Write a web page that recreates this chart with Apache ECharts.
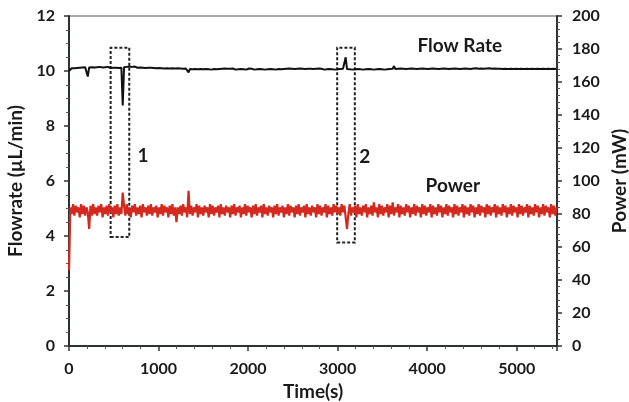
<!DOCTYPE html>
<html>
<head>
<meta charset="utf-8">
<script src="https://cdn.jsdelivr.net/npm/echarts@6/dist/echarts.min.js"></script>
<style>
  html, body { margin: 0; padding: 0; background: #fff; }
  #chart { width: 629px; height: 402px; }
</style>
</head>
<body>
<div id="chart"></div>
<script>
// sampling step of the recording (s)
var timeStep = 15;

// flow rate, uL/min (left axis), one value per 15 s
var flowRate = [
  10.0, 10.06, 10.1, 10.12, 10.1, 10.13, 10.11, 10.14, 10.12, 10.1, 10.13, 10.11, 10.14, 10.12, 9.8, 10.13, 10.11, 10.14, 10.12, 10.13,
  10.11, 10.14, 10.12, 10.15, 10.12, 10.13, 10.11, 10.14, 10.12, 10.15, 10.13, 10.11, 10.14, 10.12, 10.15, 10.12, 10.14, 10.11, 10.13, 10.12,
  8.75, 10.14, 10.12, 10.15, 10.13, 10.16, 10.13, 10.15, 10.12, 10.16, 10.14, 10.12, 10.15, 10.13, 10.14, 10.12, 10.13, 10.11, 10.13, 10.12,
  10.1, 10.12, 10.09, 10.11, 10.08, 10.1, 10.09, 10.11, 10.08, 10.1, 10.07, 10.09, 10.08, 10.1, 10.07, 10.09, 10.08, 10.1, 10.07, 10.09,
  10.08, 10.1, 10.07, 10.09, 10.06, 10.08, 10.07, 10.09, 10.06, 9.95, 10.07, 10.09, 10.06, 10.08, 10.07, 10.09, 10.06, 10.08, 10.07, 10.09,
  10.06, 10.08, 10.07, 10.09, 10.06, 10.08, 10.05, 10.08, 10.07, 10.09, 10.06, 10.08, 10.07, 10.05, 10.08, 10.06, 10.09, 10.07, 10.08, 10.06,
  10.08, 10.06, 10.09, 10.07, 10.05, 10.08, 10.06, 10.09, 10.07, 10.08, 10.06, 10.08, 10.05, 10.07, 10.09, 10.06, 10.08, 10.07, 10.05, 10.08,
  10.06, 10.09, 10.07, 10.08, 10.06, 10.07, 10.05, 10.08, 10.06, 10.09, 10.07, 10.08, 10.06, 10.07, 10.05, 10.08, 10.07, 10.09, 10.06, 10.08,
  10.07, 10.05, 10.08, 10.06, 10.09, 10.07, 10.08, 10.06, 10.07, 10.05, 10.08, 10.06, 10.09, 10.07, 10.08, 10.06, 10.07, 10.05, 10.08, 10.06,
  10.08, 10.06, 10.07, 10.05, 10.08, 10.07, 10.09, 10.06, 10.08, 10.07, 10.05, 10.08, 10.06, 10.09, 10.07, 10.08, 10.06, 10.07, 10.05, 10.08,
  10.06, 10.08, 10.07, 10.05, 10.08, 10.06, 10.5, 10.07, 10.08, 10.06, 10.07, 10.05, 10.08, 10.06, 10.09, 10.07, 10.08, 10.06, 10.07, 10.05,
  10.08, 10.06, 10.09, 10.07, 10.08, 10.06, 10.07, 10.05, 10.08, 10.06, 10.09, 10.07, 10.08, 10.06, 10.07, 10.05, 10.08, 10.06, 10.09, 10.07,
  10.06, 10.08, 10.18, 10.07, 10.05, 10.08, 10.06, 10.09, 10.07, 10.08, 10.06, 10.07, 10.05, 10.08, 10.06, 10.09, 10.07, 10.08, 10.06, 10.07,
  10.05, 10.08, 10.06, 10.09, 10.07, 10.08, 10.06, 10.07, 10.05, 10.08, 10.06, 10.09, 10.07, 10.08, 10.06, 10.07, 10.05, 10.08, 10.06, 10.09,
  10.07, 10.08, 10.06, 10.07, 10.05, 10.08, 10.06, 10.09, 10.07, 10.08, 10.06, 10.07, 10.05, 10.08, 10.06, 10.09, 10.07, 10.08, 10.06, 10.07,
  10.06, 10.09, 10.07, 10.1, 10.07, 10.08, 10.06, 10.09, 10.07, 10.08, 10.06, 10.09, 10.07, 10.1, 10.15, 10.08, 10.06, 10.09, 10.07, 10.08,
  10.06, 10.08, 10.05, 10.07, 10.06, 10.08, 10.05, 10.07, 10.06, 10.08, 10.05, 10.07, 10.06, 10.08, 10.05, 10.07, 10.06, 10.08, 10.05, 10.07,
  10.06, 10.08, 10.05, 10.07, 10.06, 10.08, 10.05, 10.07, 10.06, 10.08, 10.05, 10.07, 10.06, 10.08, 10.05, 10.07, 10.06, 10.08, 10.05, 10.07,
  10.06, 10.08, 10.05, 10.07
];

// power, mW (right axis), one value per 15 s
var power = [
  46, 84, 80, 86, 79, 85, 81, 84, 78, 86, 80, 85, 79, 84, 81, 71, 85, 79, 86, 80,
  84, 79, 85, 81, 86, 78, 84, 80, 85, 79, 86, 81, 84, 78, 85, 80, 86, 79, 84, 80,
  93, 85, 79, 86, 80, 84, 78, 85, 81, 86, 79, 84, 80, 85, 78, 86, 81, 84, 79, 85,
  80, 86, 79, 84, 81, 85, 78, 84, 80, 86, 79, 85, 81, 84, 78, 85, 80, 86, 79, 84,
  75, 84, 80, 85, 79, 86, 81, 84, 78, 94, 80, 85, 79, 84, 81, 86, 78, 85, 80, 84,
  79, 85, 81, 84, 78, 86, 80, 85, 79, 84, 81, 85, 78, 86, 80, 84, 79, 85, 81, 84,
  78, 85, 80, 86, 79, 84, 81, 85, 78, 84, 80, 86, 79, 85, 81, 84, 78, 85, 80, 86,
  79, 84, 81, 85, 78, 86, 80, 84, 79, 85, 81, 84, 78, 85, 80, 86, 79, 84, 81, 85,
  78, 84, 80, 86, 79, 85, 81, 84, 78, 85, 80, 86, 79, 84, 81, 85, 78, 86, 80, 84,
  79, 85, 81, 84, 78, 86, 80, 85, 79, 84, 81, 86, 78, 85, 80, 84, 79, 86, 81, 85,
  80, 84, 79, 86, 81, 85, 78, 71, 80, 86, 79, 84, 81, 85, 78, 86, 80, 84, 79, 85,
  81, 86, 78, 84, 80, 85, 79, 87, 81, 84, 78, 86, 80, 85, 79, 84, 81, 86, 78, 85,
  80, 87, 79, 84, 81, 86, 78, 85, 80, 84, 79, 86, 81, 85, 78, 84, 80, 86, 79, 85,
  81, 84, 78, 86, 80, 85, 79, 84, 81, 86, 78, 85, 80, 84, 79, 86, 81, 85, 78, 84,
  80, 86, 79, 85, 81, 84, 78, 86, 80, 85, 79, 84, 81, 86, 78, 85, 80, 84, 79, 86,
  81, 85, 78, 84, 80, 86, 79, 85, 81, 84, 78, 86, 80, 85, 79, 84, 81, 86, 78, 85,
  80, 84, 79, 86, 81, 85, 78, 84, 80, 86, 79, 85, 81, 84, 78, 86, 80, 85, 79, 84,
  81, 86, 78, 85, 80, 84, 79, 86, 81, 85, 78, 84, 80, 86, 79, 85, 81, 84, 78, 86,
  80, 85, 79, 84
];

// dashed boxes: [t0, t1, flow bottom, flow top]
var boxes = [
  [465, 673, 3.96, 10.85],
  [2995, 3192, 3.76, 10.85]
];

// text labels in data coords (time, flow)
var notes = [
  ['1', 826, 6.93],
  ['2', 3304, 6.86],
  ['Flow Rate', 4364, 10.93],
  ['Power', 4286, 5.84]
];

var font = 'Lato, "Open Sans", sans-serif';
var ink = '#1a1a1a';

function toPairs(arr) {
  var out = [];
  for (var i = 0; i < arr.length; i++) out.push([i * timeStep, arr[i]]);
  return out;
}

var chart = echarts.init(document.getElementById('chart'));

var option = {
  animation: false,
  backgroundColor: '#fff',
  grid: {
    left: 69, right: 72, top: 16, bottom: 56,
    outerBoundsMode: 'none', containLabel: false,
    show: true, borderColor: '#555', borderWidth: 1, backgroundColor: 'transparent'
  },
  xAxis: {
    type: 'value',
    min: 0, max: 5450, interval: 1000,
    name: 'Time(s)', nameLocation: 'middle', nameGap: 31,
    nameTextStyle: { fontFamily: font, fontWeight: 'bold', fontSize: 19, color: ink },
    axisLine: { show: true, lineStyle: { color: '#2a3333', width: 2 } },
    axisTick: { show: true, inside: false, length: 5, lineStyle: { color: '#333', width: 1.5 } },
    minorTick: { show: true, splitNumber: 5, length: 3, lineStyle: { color: '#555' } },
    splitLine: { show: false },
    axisLabel: {
      fontFamily: font, fontWeight: 'bold', fontSize: 16, color: ink, margin: 15,
      formatter: function (v) { return v % 1000 === 0 ? String(v) : ''; }
    }
  },
  yAxis: [
    {
      type: 'value', position: 'left',
      min: 0, max: 12, interval: 2,
      name: 'Flowrate (\u00b5L/min)', nameLocation: 'middle', nameGap: 40,
      nameTextStyle: { fontFamily: font, fontWeight: 'bold', fontSize: 19, color: ink },
      axisLine: { show: true, lineStyle: { color: '#2a3333', width: 2 } },
      axisTick: { show: true, inside: false, length: 5, lineStyle: { color: '#333', width: 1.5 } },
      minorTick: { show: true, splitNumber: 4, length: 3, lineStyle: { color: '#555' } },
      splitLine: { show: false },
      axisLabel: { fontFamily: font, fontWeight: 'bold', fontSize: 16, color: ink, margin: 14 }
    },
    {
      type: 'value', position: 'right',
      min: 0, max: 200, interval: 20,
      name: 'Power (mW)', nameLocation: 'middle', nameGap: 46, nameRotate: 90,
      nameTextStyle: { fontFamily: font, fontWeight: 'bold', fontSize: 19, color: ink },
      axisLine: { show: true, lineStyle: { color: '#2a3333', width: 2 } },
      axisTick: { show: true, inside: false, length: 5, lineStyle: { color: '#333', width: 1.5 } },
      minorTick: { show: true, splitNumber: 5, length: 3, lineStyle: { color: '#555' } },
      splitLine: { show: false },
      axisLabel: { fontFamily: font, fontWeight: 'bold', fontSize: 16, color: ink, margin: 15 }
    }
  ],
  series: [
    {
      name: 'Power', type: 'line', yAxisIndex: 1,
      data: toPairs(power),
      showSymbol: false, symbol: 'none',
      lineStyle: { color: '#d3291f', width: 2.2 },
      z: 2
    },
    {
      name: 'Flow Rate', type: 'line', yAxisIndex: 0,
      data: toPairs(flowRate),
      showSymbol: false, symbol: 'none',
      lineStyle: { color: '#111', width: 2 },
      z: 3,
      markArea: {
        silent: true,
        itemStyle: {
          color: 'rgba(0,0,0,0)', borderColor: '#222', borderWidth: 2, borderType: [3, 2]
        },
        data: boxes.map(function (b) {
          return [{ coord: [b[0], b[2]] }, { coord: [b[1], b[3]] }];
        })
      },
      markPoint: {
        silent: true,
        symbol: 'circle', symbolSize: 0,
        label: {
          show: true, position: 'inside',
          fontFamily: font, fontWeight: 'bold', fontSize: 19, color: ink,
          formatter: function (p) { return p.name; }
        },
        data: notes.map(function (n) {
          return { name: n[0], coord: [n[1], n[2]] };
        })
      }
    }
  ]
};

chart.setOption(option);
</script>
</body>
</html>
